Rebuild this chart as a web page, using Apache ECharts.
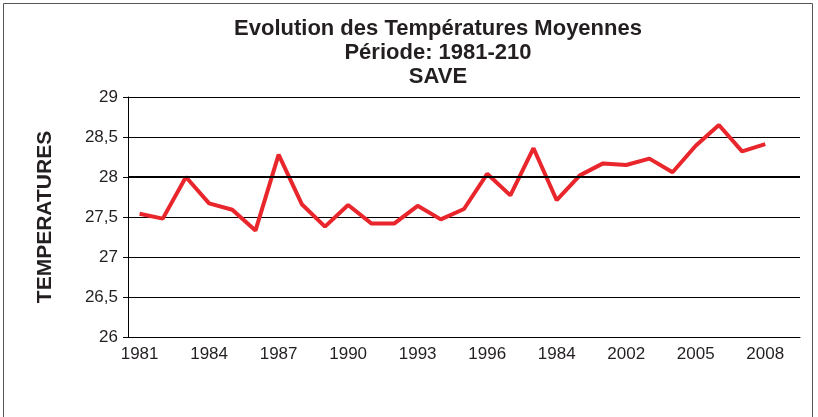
<!DOCTYPE html>
<html>
<head>
<meta charset="utf-8">
<script src="https://cdn.jsdelivr.net/npm/echarts@6/dist/echarts.min.js"></script>
<style>
  html, body { margin: 0; padding: 0; background: #fff; }
  #chart { width: 818px; height: 417px; }
</style>
</head>
<body>
<div id="chart"></div>
<script>
// years on the x axis (the 19th label reads "1984" in the original)
const years = ['1981', '1982', '1983', '1984', '1985', '1986', '1987', '1988', '1989', '1990',
  '1991', '1992', '1993', '1994', '1995', '1996', '1997', '1998', '1984', '2000',
  '2001', '2002', '2003', '2004', '2005', '2006', '2007', '2008', '2009'];
// mean temperatures
const temperatures = [27.54, 27.48, 28.0, 27.67, 27.59, 27.33, 28.28, 27.66, 27.38, 27.65,
  27.42, 27.42, 27.64, 27.47, 27.6, 28.04, 27.77, 28.36, 27.71, 28.02,
  28.17, 28.15, 28.23, 28.06, 28.39, 28.65, 28.32, 28.41];

const font = '"Liberation Sans", Arial, sans-serif';

let myChart = echarts.init(document.getElementById('chart'));
let option = {
  animation: false,
  graphic: [
    {
      type: 'rect',
      shape: { x: 3.5, y: 3.5, width: 809, height: 420 },
      style: { fill: 'none', stroke: '#555', lineWidth: 1 }
    }
  ],
  title: {
    text: 'Evolution des Températures Moyennes\nPériode: 1981-210\nSAVE',
    left: 433,
    textAlign: 'center',
    top: 12,
    textStyle: {
      fontFamily: font,
      fontWeight: 'bold',
      fontSize: 22,
      lineHeight: 24,
      color: '#231f20'
    }
  },
  grid: {
    left: 128,
    right: 18,
    top: 97,
    bottom: 80
  },
  xAxis: {
    type: 'category',
    data: years,
    boundaryGap: true,
    axisLine: { lineStyle: { color: '#000', width: 1 } },
    axisTick: { interval: 0, length: 5, lineStyle: { color: '#000' } },
    axisLabel: {
      interval: 2,
      margin: 9,
      fontFamily: font,
      fontSize: 17,
      color: '#231f20'
    }
  },
  yAxis: {
    type: 'value',
    min: 26,
    max: 29,
    interval: 0.5,
    name: 'TEMPERATURES',
    nameLocation: 'middle',
    nameGap: 72,
    nameTextStyle: {
      fontFamily: font,
      fontWeight: 'bold',
      fontSize: 21,
      color: '#231f20'
    },
    axisLine: { show: true, lineStyle: { color: '#000', width: 1 } },
    axisTick: { show: true, length: 5, lineStyle: { color: '#000' } },
    axisLabel: {
      margin: 10,
      fontFamily: font,
      fontSize: 17,
      color: '#231f20',
      formatter: v => String(v).replace('.', ',')
    },
    splitLine: {
      lineStyle: {
        color: '#000',
        width: 1
      }
    }
  },
  series: [
    {
      name: 'Température',
      type: 'line',
      data: temperatures,
      symbol: 'none',
      lineStyle: { color: '#e8262b', width: 4 },
      markLine: {
        silent: true,
        symbol: 'none',
        label: { show: false },
        lineStyle: { color: '#000', width: 2, type: 'solid' },
        data: [{ yAxis: 28 }]
      },
      z: 3
    }
  ]
};
myChart.setOption(option);
</script>
</body>
</html>
